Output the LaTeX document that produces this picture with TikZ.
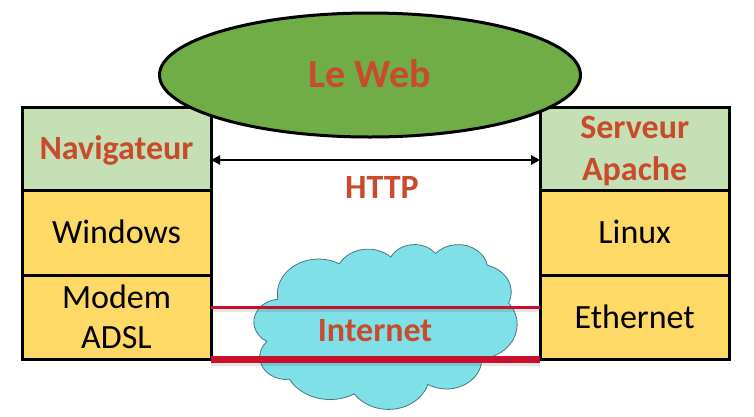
\documentclass[tikz,border=0pt]{standalone}
\usepackage{fontspec}
\setmainfont{Carlito}
\usetikzlibrary{arrows.meta,shapes.geometric}
\definecolor{webred}{RGB}{200,75,45}
\definecolor{webgreen}{RGB}{112,173,71}
\definecolor{lightgreen}{RGB}{197,224,180}
\definecolor{yellowbox}{RGB}{255,217,102}
\definecolor{cloudfill}{RGB}{128,224,232}
\definecolor{cloudline}{RGB}{70,120,128}
\definecolor{linkred}{RGB}{200,16,46}
\begin{document}
\begin{tikzpicture}[x=1pt,y=-1pt,
  layerbox/.style={draw=black, line width=3pt, rectangle, outer sep=0pt, inner sep=0pt,
    minimum width=189pt, align=center},
  toplayer/.style={layerbox, fill=lightgreen, text=webred,
    font=\fontsize{34}{42}\selectfont\bfseries},
  oslayer/.style={layerbox, fill=yellowbox, text=black,
    font=\fontsize{34}{40}\selectfont},
  capbox/.style={text height=21.9pt, text depth=0pt},
  redlabel/.style={text=webred, font=\fontsize{34}{42}\selectfont\bfseries,
    inner sep=0pt, capbox},
  linkline/.style={draw=linkred},
  linkshadow/.style={draw=black, opacity=0.10},
  cloudstyle/.style={fill=cloudfill, draw=cloudline, line width=0.8pt}
]
\useasboundingbox (0,0) rectangle (754,416);

% left stack
\node[toplayer, minimum height=83pt, capbox] (nav) at (116.5,148.5) {Navigateur};
\node[oslayer, minimum height=85pt, capbox] (win) at (116.5,232.5) {Windows};
\node[oslayer, minimum height=84.5pt] (modem) at (116.5,317.25) {Modem\\ADSL};

% right stack
\node[toplayer, minimum height=83pt, text depth=0pt] (serv) at (634.7,148.5) {Serveur\\Apache};
\node[oslayer, minimum height=85pt, capbox] (linux) at (634.7,232.5) {Linux};
\node[oslayer, minimum height=84.5pt, capbox] (ether) at (634.7,317.25) {Ethernet};

% the web
\node[ellipse, draw=black, line width=3pt, fill=webgreen, minimum width=421pt, minimum height=124pt,
  inner sep=0pt, text=webred, font=\fontsize{40}{48}\selectfont\bfseries,
  text height=25.8pt, text depth=0pt] (web) at (370,75) {Le Web};

% HTTP arrow
\draw[line width=2pt, {Triangle[length=9pt,width=9pt]}-{Triangle[length=9pt,width=9pt]}]
  ([yshift=-11.5pt]nav.east) -- ([yshift=-11.5pt]serv.west);
\node[redlabel] (http) at (382,187.5) {HTTP};

% cloud
\begin{scope}[shift={(254,244)}, x=0.006088pt, y={(0pt,-0.003819pt)}]
\path[cloudstyle] (3900,14370)
 arc[start angle=-187.75, delta angle=128.13, x radius=6753, y radius=9190]
 arc[start angle=-152.02, delta angle=106.55, x radius=5333, y radius=7267]
 arc[start angle=-153.49, delta angle=116.17, x radius=4365, y radius=5945]
 arc[start angle=-139.72, delta angle=129.50, x radius=4857, y radius=6595]
 arc[start angle=-74.77, delta angle=97.98, x radius=5333, y radius=7273]
 arc[start angle=-37.54, delta angle=119.41, x radius=6775, y radius=9220]
 arc[start angle=0.46, delta angle=121.54, x radius=5785, y radius=7867]
 arc[start angle=16.84, delta angle=129.38, x radius=6752, y radius=9215]
 arc[start angle=59.02, delta angle=91.16, x radius=7720, y radius=10543]
 arc[start angle=-276.70, delta angle=139.81, x radius=4360, y radius=5918]
 arc[start angle=-239.64, delta angle=143.75, x radius=4345, y radius=5945]
 -- cycle;
\end{scope}

% internet links
\draw[linkshadow, line width=5pt] ([yshift=8pt]modem.east) -- ([yshift=8pt]ether.west);
\draw[linkshadow, line width=9pt] ([yshift=-2pt]modem.south east) -- ([yshift=-2pt]ether.south west);
\draw[linkline, line width=3.5pt] ([yshift=10pt]modem.east) -- ([yshift=10pt]ether.west);
\draw[linkline, line width=7pt] (modem.south east) -- (ether.south west);
\node[redlabel] (internet) at (375,330.5) {Internet};
\end{tikzpicture}
\end{document}
